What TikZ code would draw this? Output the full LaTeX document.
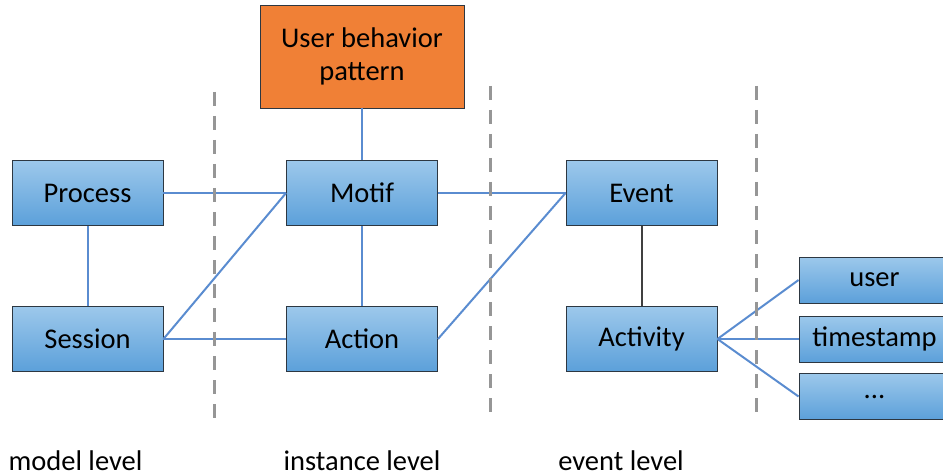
\documentclass[tikz,border=0pt]{standalone}
\usepackage{fontspec}
\setmainfont{Carlito}
\definecolor{boxtop}{RGB}{156,200,235}
\definecolor{boxbot}{RGB}{92,160,218}
\definecolor{boxedge}{RGB}{45,55,65}
\definecolor{orangefill}{RGB}{240,128,54}
\definecolor{linkblue}{RGB}{90,140,208}
\definecolor{sepgray}{RGB}{150,150,150}
\tikzset{
  entity/.style={draw=boxedge, line width=0.9pt, top color=boxtop, bottom color=boxbot,
    minimum width=151pt, minimum height=65pt, inner sep=0pt,
    font=\fontsize{28.5}{30}\selectfont},
  attr/.style={entity, minimum height=46pt},
  pattern box/.style={draw=boxedge, line width=0.9pt, fill=orangefill,
    minimum width=204pt, minimum height=103pt, align=center,
    font=\fontsize{28.5}{33}\selectfont},
  link/.style={draw=linkblue, line width=2pt},
  darklink/.style={draw=black!75, line width=2pt},
  separator/.style={draw=sepgray, line width=3pt, dash pattern=on 14pt off 10pt},
  levellabel/.style={anchor=base, inner sep=0pt, font=\fontsize{28.5}{30}\selectfont}
}
\begin{document}
\begin{tikzpicture}[x=1pt, y=-1pt]
  \useasboundingbox (0,0) rectangle (943,476);
  \begin{scope}
    \clip (0,0) rectangle (943,476);

    % nodes
    \node[pattern box] (ubp) at (362,56.5) {User behavior\\pattern};
    \node[entity] (process) at (87.5,193) {Process};
    \node[entity] (session) at (87.5,339) {Session};
    \node[entity] (motif) at (362,193) {Motif};
    \node[entity] (action) at (362,339) {Action};
    \node[entity] (event) at (641.5,193) {Event};
    \node[entity] (activity) at (641.5,339) {Activity};
    \node[attr] (user) at (874.5,280) {user};
    \node[attr] (timestamp) at (874.5,339) {timestamp};
    \node[attr] (more) at (874.5,396.5) {...};

    % connectors
    \draw[link] (ubp) -- (motif);
    \draw[link] (process) -- (session);
    \draw[link] (process.east) -- (motif.west);
    \draw[link] (session.east) -- (motif.west);
    \draw[link] (session.east) -- (action.west);
    \draw[link] (motif) -- (action);
    \draw[link] (motif.east) -- (event.west);
    \draw[link] (action.east) -- (event.west);
    \draw[darklink] (event) -- (activity);
    \draw[link] (activity.east) -- (user.west);
    \draw[link] (activity.east) -- (timestamp.west);
    \draw[link] (activity.east) -- (more.west);

    % level separators, drawn over the connectors
    \coordinate (s1t) at (214,92);  \coordinate (s1b) at (214,426);
    \coordinate (s2t) at (490,86);  \coordinate (s2b) at (490,420);
    \coordinate (s3t) at (756,86);  \coordinate (s3b) at (756,420);
    \draw[separator] (s1t) -- (s1b);
    \draw[separator] (s2t) -- (s2b);
    \draw[separator] (s3t) -- (s3b);

    % level captions
    \node[levellabel] (lmodel) at (75.5,470) {model level};
    \node[levellabel] (linst) at (362,470) {instance level};
    \node[levellabel] (levent) at (621,470) {event level};
  \end{scope}
\end{tikzpicture}
\end{document}
